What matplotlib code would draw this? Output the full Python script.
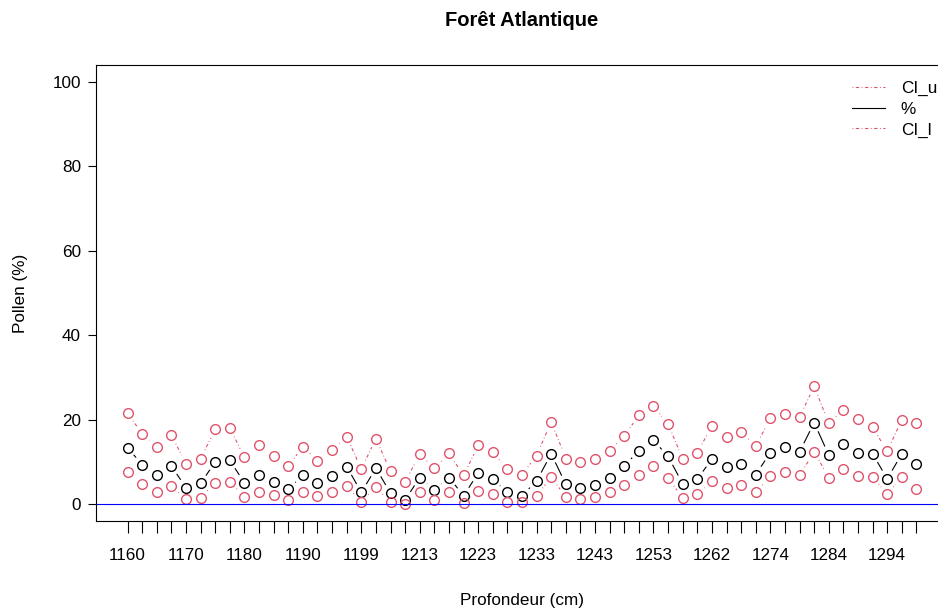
import numpy as np
import matplotlib
matplotlib.use("Agg")
import matplotlib.pyplot as plt
from matplotlib.collections import LineCollection
from matplotlib.lines import Line2D

plt.rcParams['font.family'] = ['Liberation Sans', 'DejaVu Sans']

# pollen percentage with confidence interval, one sample per depth level
pct = [13.4, 9.3, 6.9, 9.0, 3.9, 4.9, 10.0, 10.4, 5.0, 7.0,
       5.3, 3.6, 6.8, 4.9, 6.6, 8.9, 2.8, 8.5, 2.6, 1.0,
       6.3, 3.3, 6.3, 2.0, 7.3, 5.9, 2.8, 2.0, 5.5, 11.9,
       4.7, 3.9, 4.6, 6.3, 9.1, 12.6, 15.1, 11.3, 4.8, 5.9,
       10.7, 8.7, 9.6, 7.0, 12.2, 13.5, 12.4, 19.3, 11.6, 14.3,
       12.0, 11.9, 6.0, 11.9, 9.4]
ci_u = [21.6, 16.6, 13.6, 16.3, 9.6, 10.8, 17.7, 18.0, 11.1, 13.9,
        11.3, 9.0, 13.6, 10.3, 12.9, 16.0, 8.3, 15.5, 7.8, 5.3,
        11.8, 8.5, 12.0, 6.8, 13.9, 12.3, 8.2, 7.0, 11.5, 19.5,
        10.8, 10.0, 10.8, 12.6, 16.2, 21.0, 23.2, 19.0, 10.7, 12.2,
        18.5, 16.0, 17.0, 13.8, 20.3, 21.4, 20.6, 27.9, 19.1, 22.4,
        20.2, 18.2, 12.5, 20.0, 19.3]
ci_l = [7.5, 4.7, 2.9, 4.3, 1.1, 1.5, 5.1, 5.3, 1.7, 2.9,
        2.1, 1.0, 2.8, 2.0, 2.8, 4.2, 0.6, 4.0, 0.5, 0.0,
        2.8, 1.0, 2.8, 0.2, 3.2, 2.3, 0.6, 0.4, 2.0, 6.4,
        1.7, 1.2, 1.6, 2.8, 4.5, 6.9, 9.0, 6.1, 1.5, 2.3,
        5.4, 3.8, 4.6, 2.8, 6.6, 7.6, 6.8, 12.4, 6.3, 8.2,
        6.6, 6.5, 2.3, 6.4, 3.6]
depth_labels = ['1160', '1170', '1180', '1190', '1199', '1213', '1223',
                '1233', '1243', '1253', '1262', '1274', '1284', '1294']

red = '#DF536B'
n = len(pct)
idx = np.arange(1, n + 1)

fig = plt.figure(figsize=(9.38, 6.09), dpi=100)
# plot region runs past the right edge of the picture, like the original
ax = fig.add_axes([96/938, 1 - 521/609, 852/938, 456/609])
pad = 0.04 * (n - 1)
ax.set_xlim(1 - pad, n + pad)
ax.set_ylim(-4, 104)


def b_segments(x, y, gap=9.5):
    # R type="b": lines broken around each point
    pts = ax.transData.transform(np.column_stack([x, y]))
    segs = []
    for p0, p1 in zip(pts[:-1], pts[1:]):
        d = p1 - p0
        L = np.hypot(*d)
        if L <= 2 * gap:
            continue
        u = d / L
        a = ax.transData.inverted().transform(p0 + u * gap)
        b = ax.transData.inverted().transform(p1 - u * gap)
        segs.append([a, b])
    return segs


dotdash = (0, (0.75, 2.25, 3, 2.25))
for series, col, ls in [(ci_u, red, dotdash), (pct, 'black', 'solid'), (ci_l, red, dotdash)]:
    lc = LineCollection(b_segments(idx, series), colors=col, linewidths=0.8, linestyles=ls)
    ax.add_collection(lc)
    ax.plot(idx, series, ls='none', marker='o', ms=7.0, mfc='none', mec=col, mew=1.0)

ax.axhline(0, color='blue', lw=0.8)

ax.spines['right'].set_visible(False)
for s in ['left', 'top', 'bottom']:
    ax.spines[s].set_linewidth(0.8)

ax.set_xticks(idx)
ax.set_xticklabels([depth_labels[i // 4] if i % 4 == 0 else '' for i in range(n)])
ax.set_yticks([0, 20, 40, 60, 80, 100])
ax.tick_params(axis='x', length=8.5, width=0.8, pad=11, labelsize=12.3, colors='black')
ax.tick_params(axis='y', length=5.8, width=0.8, pad=5, labelsize=12.3)

ax.set_xlabel('Profondeur (cm)', fontsize=12.3, va='center')
ax.xaxis.set_label_coords(0.5, (521 - 600) / 456)
ax.set_ylabel('Pollen (%)', fontsize=12.3, va='center')
ax.yaxis.set_label_coords((20 - 96) / 852, 0.5)

fig.text(522/938, 1 - 20/609, 'Forêt Atlantique', ha='center', va='center',
         fontsize=14.5, fontweight='bold')

handles = [Line2D([], [], color=red, lw=0.8, ls=dotdash),
           Line2D([], [], color='black', lw=0.8),
           Line2D([], [], color=red, lw=0.8, ls=dotdash)]
fig.legend(handles, ['CI_u', '%', 'CI_l'], loc='upper left',
           bbox_to_anchor=(852/938, 1 - 81/609), frameon=False, fontsize=12.3,
           handlelength=1.95, handletextpad=0.9, labelspacing=0.33,
           borderpad=0, borderaxespad=0)

fig.savefig('out.png', dpi=100)
